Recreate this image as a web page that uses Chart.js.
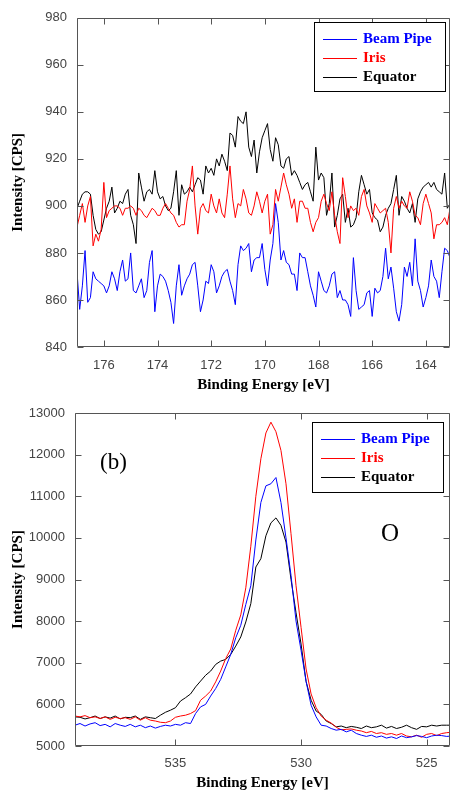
<!DOCTYPE html>
<html>
<head>
<meta charset="utf-8">
<script src="https://cdn.jsdelivr.net/npm/chart.js@4.4.1/dist/chart.umd.min.js"></script>
<style>
  html, body { margin: 0; padding: 0; background: #fff; }
  #wrap { position: relative; width: 451px; height: 792px; overflow: hidden; }
  canvas { position: absolute; left: 0; }
</style>
</head>
<body>
<div id="wrap">
  <canvas id="chartS" width="451" height="395" style="top:0px"></canvas>
  <canvas id="chartO" width="451" height="397" style="top:395px"></canvas>
</div>
<script>
// series names / colours (same for both panels)
var seriesNames = ['Beam Pipe', 'Iris', 'Equator']
var seriesColors = ['#0000ff', '#ff0000', '#000000']

// ---- top panel: S 2p region, 177.0 -> 163.1 eV in 0.1 eV steps
var sStart = 177.0, sStep = 0.1
var sTicksX = [176, 174, 172, 170, 168, 166, 164]
var sTicksY = [840, 860, 880, 900, 920, 940, 960, 980]

var sBeamPipe = [872,856,866,881,859,861,872,869,868,867,866,863,866,872,869,864,872,877,868,869,
  880,864,863,866,869,861,864,876,881,855,866,871,870,868,864,859,850,866,875,862,
  866,869,871,875,876,866,855,860,868,867,875,872,863,866,870,872,873,868,864,858,
  875,883,881,882,884,872,877,878,878,884,873,866,877,884,901,893,877,881,876,875,
  871,871,864,880,878,878,872,866,862,857,872,868,864,863,866,871,872,861,864,860,
  860,858,853,878,864,856,857,858,863,864,853,865,863,864,870,882,869,874,865,855,
  851,858,874,870,876,866,886,868,864,857,861,866,877,870,868,861,872,882,881,878]

var sIris = [891,896,901,893,900,904,883,888,885,890,910,895,898,899,900,900,899,896,899,899,
  900,899,896,899,898,896,895,897,899,898,896,896,899,901,899,897,896,893,891,892,
  892,902,907,917,900,888,899,901,898,897,905,900,897,903,897,895,905,917,903,895,
  901,900,907,903,897,896,900,906,902,897,902,905,888,892,907,902,908,914,909,905,
  899,903,893,902,902,899,899,893,889,893,895,902,905,901,898,906,896,889,884,912,
  904,895,900,898,899,896,904,907,900,897,893,901,899,897,898,899,893,880,899,904,
  899,902,900,899,906,902,896,895,892,901,905,901,897,886,892,892,893,895,892,899]

var sEquator = [899,902,905,906,906,905,896,890,888,889,894,899,902,908,897,899,902,901,905,907,
  896,892,884,914,908,902,906,907,905,915,906,903,904,900,898,899,906,915,896,909,
  905,906,908,906,909,912,911,905,917,914,916,913,920,917,922,919,915,931,930,925,
  938,936,935,940,925,921,928,914,923,929,932,935,924,919,929,926,917,916,920,921,
  913,915,913,910,907,909,910,906,902,925,911,914,912,896,901,914,891,896,903,905,
  893,899,891,892,895,906,913,909,905,907,897,895,894,889,891,896,899,901,907,913,
  896,904,902,899,897,901,893,903,906,908,909,910,908,910,907,906,905,914,899,901]

// ---- bottom panel: O 1s region, 539.0 -> 524.0 eV in 0.2 eV steps
var oStart = 539.0, oStep = 0.2
var oTicksX = [535, 530, 525]
var oTicksY = [5000, 6000, 7000, 8000, 9000, 10000, 11000, 12000, 13000]

var oBeamPipe = [5500,5540,5480,5530,5560,5490,5520,5460,5540,5500,5470,5520,5460,5500,5440,5480,
  5430,5470,5500,5480,5520,5500,5560,5540,5780,5940,6000,6200,6380,6600,6900,7200,
  7600,7900,8400,8850,9950,10850,11250,11300,11450,10850,10000,9100,8000,7300,6550,5980,
  5700,5500,5480,5420,5380,5400,5340,5380,5300,5260,5230,5260,5210,5240,5190,5220,
  5180,5240,5200,5220,5250,5230,5200,5240,5260,5250,5230,5240]

var oIris = [5720,5700,5730,5680,5700,5660,5700,5640,5690,5660,5680,5640,5700,5620,5680,5620,
  5600,5570,5560,5600,5690,5720,5740,5780,5850,6100,6200,6320,6540,6800,7100,7330,
  7780,8150,8800,9800,11000,11900,12520,12780,12550,12100,11300,10100,8850,7850,6850,6250,
  5920,5720,5620,5550,5450,5390,5400,5410,5380,5360,5320,5350,5300,5320,5280,5300,
  5260,5300,5240,5220,5260,5210,5280,5300,5250,5300,5320,5330]

var oEquator = [5700,5690,5650,5680,5720,5660,5700,5670,5720,5650,5690,5680,5720,5640,5700,5680,
  5660,5740,5810,5860,5920,6080,6160,6250,6420,6560,6700,6800,6960,7040,7080,7200,
  7400,7620,7980,8420,9300,9500,10050,10360,10480,10300,9900,9000,8200,7450,6550,6100,
  5840,5760,5600,5540,5460,5480,5440,5470,5450,5420,5480,5440,5460,5500,5430,5470,
  5420,5450,5500,5440,5400,5470,5460,5500,5480,5500,5500,5500]

var sansFont = "'Liberation Sans', Arial, sans-serif"
var serifFont = "'Liberation Serif', 'Times New Roman', serif"

// frame with inward ticks, boxed legend and text notes
const framePlugin = {
  id: 'frame',
  afterDraw(chart, args, opts) {
    const ctx = chart.ctx, a = chart.chartArea
    const x = chart.scales.x, y = chart.scales.y
    ctx.save()
    ctx.strokeStyle = '#555'
    ctx.lineWidth = 1
    const L = Math.round(a.left) + 0.5, T = Math.round(a.top) + 0.5
    const R = Math.round(a.right) - 0.5, B = Math.round(a.bottom) - 0.5
    ctx.beginPath()
    ctx.moveTo(L, T); ctx.lineTo(R, T); ctx.lineTo(R, B); ctx.lineTo(L, B); ctx.closePath()
    x.ticks.forEach(t => {
      const p = Math.round(x.getPixelForValue(t.value)) + 0.5
      ctx.moveTo(p, B); ctx.lineTo(p, B - 6)
      ctx.moveTo(p, T); ctx.lineTo(p, T + 6)
    })
    y.ticks.forEach(t => {
      const p = Math.round(y.getPixelForValue(t.value)) + 0.5
      ctx.moveTo(L, p); ctx.lineTo(L + 6, p)
      ctx.moveTo(R, p); ctx.lineTo(R - 6, p)
    })
    ctx.stroke()

    // legend box
    const lg = opts.legend
    ctx.fillStyle = '#fff'
    ctx.fillRect(lg.left, lg.top, lg.width, lg.height)
    ctx.strokeStyle = '#000'
    ctx.strokeRect(lg.left + 0.5, lg.top + 0.5, lg.width, lg.height)
    ctx.font = 'bold 15px ' + serifFont
    ctx.textBaseline = 'middle'
    ctx.textAlign = 'left'
    chart.data.datasets.forEach((ds, i) => {
      const ry = Math.round(lg.top + 17 + i * 19)
      ctx.beginPath()
      ctx.lineWidth = 1
      ctx.strokeStyle = seriesColors[i]
      ctx.moveTo(lg.left + 9, ry + 0.5); ctx.lineTo(lg.left + 43, ry + 0.5)
      ctx.stroke()
      ctx.fillStyle = seriesColors[i]
      ctx.fillText(ds.label, lg.left + 49, ry)
    })

    // notes like "(b)" and "O"
    ;(opts.notes || []).forEach(n => {
      ctx.font = n.font
      ctx.fillStyle = '#000'
      ctx.fillText(n.text, n.x, n.y)
    })
    ctx.restore()
  }
}

function makePanel(id, energies, series, ticksX, ticksY, xr, yr, box, notes) {
  const datasets = series.map((vals, i) => ({
    label: seriesNames[i],
    data: vals.map((v, j) => ({ x: energies[j], y: v })),
    borderColor: seriesColors[i],
    borderWidth: 1,
    pointRadius: 0,
    tension: 0
  }))
  const canvas = document.getElementById(id)
  return new Chart(canvas.getContext('2d'), {
    type: 'line',
    data: { datasets: datasets },
    options: {
      responsive: false,
      animation: false,
      devicePixelRatio: 1,
      parsing: false,
      layout: { padding: { top: box.top, right: 1, left: 0, bottom: 0 } },
      plugins: {
        legend: { display: false },
        tooltip: { enabled: false },
        frame: { legend: box.legend, notes: notes }
      },
      scales: {
        x: {
          type: 'linear',
          reverse: true,
          min: xr[0],
          max: xr[1],
          grid: { display: false, drawTicks: false },
          border: { display: false },
          afterBuildTicks: s => { s.ticks = ticksX.map(v => ({ value: v })) },
          afterFit: s => { s.height = canvas.height - box.bottom },
          ticks: { color: '#444', font: { family: sansFont, size: 13 }, padding: box.padX, maxRotation: 0,
                   callback: v => String(v) },
          title: { display: true, text: 'Binding Energy [eV]', color: '#000',
                   font: { family: serifFont, size: 15, weight: 'bold' }, padding: { top: 0, bottom: box.titleX } }
        },
        y: {
          min: yr[0],
          max: yr[1],
          grid: { display: false, drawTicks: false },
          border: { display: false },
          afterBuildTicks: s => { s.ticks = ticksY.map(v => ({ value: v })) },
          afterFit: s => { s.width = box.left },
          ticks: { color: '#444', font: { family: sansFont, size: 13 }, padding: 10,
                   callback: v => String(v) },
          title: { display: true, text: 'Intensity [CPS]', color: '#000',
                   font: { family: serifFont, size: 15, weight: 'bold' }, padding: { top: 9, bottom: 0 } }
        }
      }
    },
    plugins: [framePlugin]
  })
}

var sEnergy = sBeamPipe.map((v, i) => +(sStart - i * sStep).toFixed(2))
var oEnergy = oBeamPipe.map((v, i) => +(oStart - i * oStep).toFixed(2))

makePanel('chartS', sEnergy, [sBeamPipe, sIris, sEquator], sTicksX, sTicksY,
  [163.1, 177.0], [840, 980],
  { top: 14, bottom: 347, left: 77, titleX: 1, padX: 11, legend: { left: 314, top: 22, width: 131, height: 69 } },
  [])

makePanel('chartO', oEnergy, [oBeamPipe, oIris, oEquator], oTicksX, oTicksY,
  [524.07, 539.0], [5000, 13000],
  { top: 18, bottom: 351, left: 75, titleX: 0, padX: 10, legend: { left: 312, top: 27, width: 131, height: 70 } },
  [{ text: '(b)', x: 100, y: 68, font: '23px ' + serifFont },
   { text: 'O', x: 381, y: 139, font: '25px ' + serifFont }])
</script>
</body>
</html>
